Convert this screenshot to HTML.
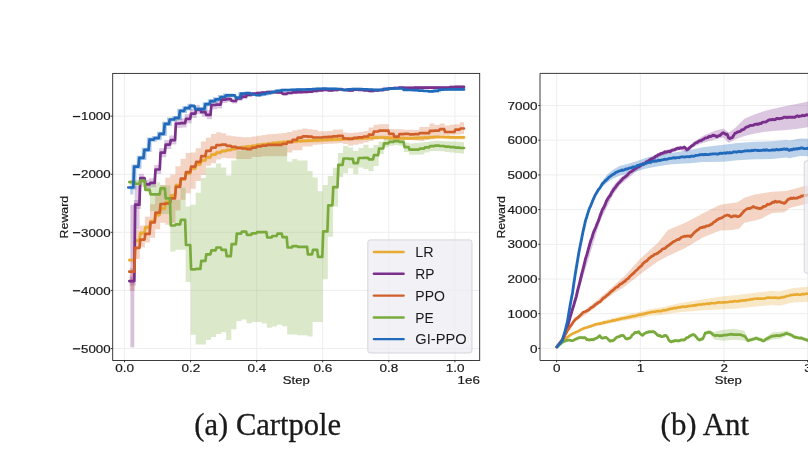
<!DOCTYPE html><html><head><meta charset="utf-8"><title>plots</title><style>html,body{margin:0;padding:0;background:#fff;overflow:hidden}svg{display:block;will-change:transform;transform:translateZ(0)}</style></head><body>
<svg width="808" height="455" viewBox="0 0 808 455">
<rect width="808" height="455" fill="#fff"/>
<defs><clipPath id="cl"><rect x="112.7" y="73.4" width="367" height="287.1"/></clipPath><clipPath id="cr"><rect x="540" y="73.4" width="268" height="287.1"/></clipPath></defs>
<g clip-path="url(#cl)">
<line x1="124.5" x2="124.5" y1="73.4" y2="360.5" stroke="#ececec" stroke-width="0.9"/>
<line x1="190.6" x2="190.6" y1="73.4" y2="360.5" stroke="#ececec" stroke-width="0.9"/>
<line x1="256.7" x2="256.7" y1="73.4" y2="360.5" stroke="#ececec" stroke-width="0.9"/>
<line x1="322.7" x2="322.7" y1="73.4" y2="360.5" stroke="#ececec" stroke-width="0.9"/>
<line x1="388.8" x2="388.8" y1="73.4" y2="360.5" stroke="#ececec" stroke-width="0.9"/>
<line x1="454.9" x2="454.9" y1="73.4" y2="360.5" stroke="#ececec" stroke-width="0.9"/>
<line x1="112.7" x2="479.7" y1="116.2" y2="116.2" stroke="#ececec" stroke-width="0.9"/>
<line x1="112.7" x2="479.7" y1="174.3" y2="174.3" stroke="#ececec" stroke-width="0.9"/>
<line x1="112.7" x2="479.7" y1="232.3" y2="232.3" stroke="#ececec" stroke-width="0.9"/>
<line x1="112.7" x2="479.7" y1="290.4" y2="290.4" stroke="#ececec" stroke-width="0.9"/>
<line x1="112.7" x2="479.7" y1="348.5" y2="348.5" stroke="#ececec" stroke-width="0.9"/>
<polygon points="129.7,258.2 134.8,258.2 134.8,238.5 139.9,238.5 139.9,231.2 144.9,231.2 144.9,225.3 150.0,225.3 150.0,219.3 155.1,219.3 155.1,212.9 160.2,212.9 160.2,206.5 165.3,206.5 165.3,200.2 170.3,200.2 170.3,193.5 175.4,193.5 175.4,183.3 180.5,183.3 180.5,177.3 185.6,177.3 185.6,171.4 190.7,171.4 190.7,166.4 195.7,166.4 195.7,162.3 200.8,162.3 200.8,158.5 205.9,158.5 205.9,155.3 211.0,155.3 211.0,152.6 216.1,152.6 216.1,150.6 221.1,150.6 221.1,149.0 226.2,149.0 226.2,148.0 231.3,148.0 231.3,147.0 236.4,147.0 236.4,145.9 241.5,145.9 241.5,145.3 246.5,145.3 246.5,144.7 251.6,144.7 251.6,143.9 256.7,143.9 256.7,143.0 261.8,143.0 261.8,142.4 266.9,142.4 266.9,141.8 271.9,141.8 271.9,141.2 277.0,141.2 277.0,140.7 282.1,140.7 282.1,140.2 287.2,140.2 287.2,139.7 292.3,139.7 292.3,139.4 297.3,139.4 297.3,139.1 302.4,139.1 302.4,138.8 307.5,138.8 307.5,138.6 312.6,138.6 312.6,138.4 317.7,138.4 317.7,138.2 322.7,138.2 322.7,138.0 327.8,138.0 327.8,137.7 332.9,137.7 332.9,137.5 338.0,137.5 338.0,137.3 343.1,137.3 343.1,137.0 348.1,137.0 348.1,136.7 353.2,136.7 353.2,136.5 358.3,136.5 358.3,136.3 363.4,136.3 363.4,136.1 368.5,136.1 368.5,135.8 373.5,135.8 373.5,135.6 378.6,135.6 378.6,135.5 383.7,135.5 383.7,135.7 388.8,135.7 388.8,135.9 393.9,135.9 393.9,136.1 398.9,136.1 398.9,136.2 404.0,136.2 404.0,136.3 409.1,136.3 409.1,136.3 414.2,136.3 414.2,136.1 419.3,136.1 419.3,135.8 424.3,135.8 424.3,135.6 429.4,135.6 429.4,135.3 434.5,135.3 434.5,135.0 439.6,135.0 439.6,135.0 444.7,135.0 444.7,135.2 449.7,135.2 449.7,135.3 454.8,135.3 454.8,135.4 459.9,135.4 459.9,135.4 464.0,135.4 464.0,139.4 459.9,139.4 459.9,139.4 454.8,139.4 454.8,139.3 449.7,139.3 449.7,139.2 444.7,139.2 444.7,139.0 439.6,139.0 439.6,139.0 434.5,139.0 434.5,139.3 429.4,139.3 429.4,139.6 424.3,139.6 424.3,139.8 419.3,139.8 419.3,140.1 414.2,140.1 414.2,140.3 409.1,140.3 409.1,140.3 404.0,140.3 404.0,140.2 398.9,140.2 398.9,140.1 393.9,140.1 393.9,139.9 388.8,139.9 388.8,139.7 383.7,139.7 383.7,139.5 378.6,139.5 378.6,139.6 373.5,139.6 373.5,139.8 368.5,139.8 368.5,140.1 363.4,140.1 363.4,140.3 358.3,140.3 358.3,140.5 353.2,140.5 353.2,140.7 348.1,140.7 348.1,141.0 343.1,141.0 343.1,141.3 338.0,141.3 338.0,141.5 332.9,141.5 332.9,141.7 327.8,141.7 327.8,142.0 322.7,142.0 322.7,142.2 317.7,142.2 317.7,142.4 312.6,142.4 312.6,142.6 307.5,142.6 307.5,142.8 302.4,142.8 302.4,143.1 297.3,143.1 297.3,143.4 292.3,143.4 292.3,143.7 287.2,143.7 287.2,144.2 282.1,144.2 282.1,144.7 277.0,144.7 277.0,145.2 271.9,145.2 271.9,145.8 266.9,145.8 266.9,146.4 261.8,146.4 261.8,147.0 256.7,147.0 256.7,147.9 251.6,147.9 251.6,148.7 246.5,148.7 246.5,149.3 241.5,149.3 241.5,149.9 236.4,149.9 236.4,151.0 231.3,151.0 231.3,152.0 226.2,152.0 226.2,153.0 221.1,153.0 221.1,154.6 216.1,154.6 216.1,156.6 211.0,156.6 211.0,159.3 205.9,159.3 205.9,162.5 200.8,162.5 200.8,166.3 195.7,166.3 195.7,170.4 190.7,170.4 190.7,175.4 185.6,175.4 185.6,181.3 180.5,181.3 180.5,187.3 175.4,187.3 175.4,197.5 170.3,197.5 170.3,204.2 165.3,204.2 165.3,210.5 160.2,210.5 160.2,216.9 155.1,216.9 155.1,223.3 150.0,223.3 150.0,229.3 144.9,229.3 144.9,235.2 139.9,235.2 139.9,242.5 134.8,242.5 134.8,262.2 129.7,262.2" fill="#E8AA30" fill-opacity="0.27" stroke="none"/>
<polygon points="129.7,276.6 133.8,276.6 133.8,200.1 138.9,200.1 138.9,173.7 143.9,173.7 143.9,179.8 149.0,179.8 149.0,178.3 154.1,178.3 154.1,165.0 159.2,165.0 159.2,148.2 164.3,148.2 164.3,140.1 169.3,140.1 169.3,135.6 174.4,135.6 174.4,119.0 179.5,119.0 179.5,118.6 184.6,118.6 184.6,114.3 189.7,114.3 189.7,109.1 194.7,109.1 194.7,105.1 199.8,105.1 199.8,107.7 204.9,107.7 204.9,110.3 210.0,110.3 210.0,100.6 215.1,100.6 215.1,100.6 220.1,100.6 220.1,96.1 225.2,96.1 225.2,96.1 230.3,96.1 230.3,98.4 235.4,98.4 235.4,96.0 240.5,96.0 240.5,94.6 245.5,94.6 245.5,92.9 250.6,92.9 250.6,92.0 255.7,92.0 255.7,91.5 260.8,91.5 260.8,91.0 265.9,91.0 265.9,90.6 270.9,90.6 270.9,90.7 276.0,90.7 276.0,90.9 281.1,90.9 281.1,92.4 286.2,92.4 286.2,91.5 291.3,91.5 291.3,90.8 296.3,90.8 296.3,90.6 301.4,90.6 301.4,90.4 306.5,90.4 306.5,90.2 311.6,90.2 311.6,89.6 316.7,89.6 316.7,88.8 321.7,88.8 321.7,88.3 326.8,88.3 326.8,88.9 331.9,88.9 331.9,88.6 337.0,88.6 337.0,87.9 342.1,87.9 342.1,88.5 347.1,88.5 347.1,88.9 352.2,88.9 352.2,88.2 357.3,88.2 357.3,88.3 362.4,88.3 362.4,88.9 367.5,88.9 367.5,89.4 372.5,89.4 372.5,89.0 377.6,89.0 377.6,88.5 382.7,88.5 382.7,87.7 387.8,87.7 387.8,87.0 392.9,87.0 392.9,86.5 397.9,86.5 397.9,86.2 403.0,86.2 403.0,86.4 408.1,86.4 408.1,86.3 413.2,86.3 413.2,86.2 418.3,86.2 418.3,86.1 423.3,86.1 423.3,86.1 428.4,86.1 428.4,86.1 433.5,86.1 433.5,86.1 438.6,86.1 438.6,86.1 443.7,86.1 443.7,86.2 448.7,86.2 448.7,85.7 453.8,85.7 453.8,85.5 458.9,85.5 458.9,85.5 464.0,85.5 464.0,88.3 460.9,88.3 460.9,88.3 455.8,88.3 455.8,88.6 450.7,88.6 450.7,89.0 445.7,89.0 445.7,89.1 440.6,89.1 440.6,89.1 435.5,89.1 435.5,89.1 430.4,89.1 430.4,89.1 425.3,89.1 425.3,89.1 420.3,89.1 420.3,89.1 415.2,89.1 415.2,89.2 410.1,89.2 410.1,89.3 405.0,89.3 405.0,89.1 399.9,89.1 399.9,89.5 394.9,89.5 394.9,89.9 389.8,89.9 389.8,90.6 384.7,90.6 384.7,91.5 379.6,91.5 379.6,92.0 374.5,92.0 374.5,92.4 369.5,92.4 369.5,91.8 364.4,91.8 364.4,91.2 359.3,91.2 359.3,91.1 354.2,91.1 354.2,91.9 349.1,91.9 349.1,91.5 344.1,91.5 344.1,90.9 339.0,90.9 339.0,91.5 333.9,91.5 333.9,91.8 328.8,91.8 328.8,91.3 323.7,91.3 323.7,91.8 318.7,91.8 318.7,92.5 313.6,92.5 313.6,93.2 308.5,93.2 308.5,93.4 303.4,93.4 303.4,93.6 298.3,93.6 298.3,93.8 293.3,93.8 293.3,94.5 288.2,94.5 288.2,95.4 283.1,95.4 283.1,93.9 278.0,93.9 278.0,93.7 272.9,93.7 272.9,93.6 267.9,93.6 267.9,94.0 262.8,94.0 262.8,94.5 257.7,94.5 257.7,95.5 252.6,95.5 252.6,96.8 247.5,96.8 247.5,98.9 242.5,98.9 242.5,100.7 237.4,100.7 237.4,103.6 232.3,103.6 232.3,102.1 227.2,102.1 227.2,103.1 222.1,103.1 222.1,108.5 217.1,108.5 217.1,109.3 212.0,109.3 212.0,119.3 206.9,119.3 206.9,116.7 201.8,116.7 201.8,114.1 196.7,114.1 196.7,118.1 191.7,118.1 191.7,123.3 186.6,123.3 186.6,127.6 181.5,127.6 181.5,128.0 176.4,128.0 176.4,144.6 171.3,144.6 171.3,149.1 166.3,149.1 166.3,157.2 161.2,157.2 161.2,174.0 156.1,174.0 156.1,187.3 151.0,187.3 151.0,188.8 145.9,188.8 145.9,182.7 140.9,182.7 140.9,209.1 135.8,209.1 135.8,285.6 129.7,285.6" fill="#7B2F8C" fill-opacity="0.27" stroke="none"/>
<polygon points="129.7,268.0 134.8,268.0 134.8,229.3 139.9,229.3 139.9,225.5 144.9,225.5 144.9,216.7 150.0,216.7 150.0,204.3 155.1,204.3 155.1,194.1 160.2,194.1 160.2,185.1 165.3,185.1 165.3,177.8 170.3,177.8 170.3,174.4 175.4,174.4 175.4,166.3 180.5,166.3 180.5,158.7 185.6,158.7 185.6,153.0 190.7,153.0 190.7,152.6 195.7,152.6 195.7,148.3 200.8,148.3 200.8,141.5 205.9,141.5 205.9,137.8 211.0,137.8 211.0,134.1 216.1,134.1 216.1,132.2 221.1,132.2 221.1,133.2 226.2,133.2 226.2,135.4 231.3,135.4 231.3,136.3 236.4,136.3 236.4,136.7 241.5,136.7 241.5,137.2 246.5,137.2 246.5,137.3 251.6,137.3 251.6,136.5 256.7,136.5 256.7,135.7 261.8,135.7 261.8,134.9 266.9,134.9 266.9,134.3 271.9,134.3 271.9,133.9 277.0,133.9 277.0,133.4 282.1,133.4 282.1,133.0 287.2,133.0 287.2,132.0 292.3,132.0 292.3,130.5 297.3,130.5 297.3,129.4 302.4,129.4 302.4,128.6 307.5,128.6 307.5,129.2 312.6,129.2 312.6,129.8 317.7,129.8 317.7,131.3 322.7,131.3 322.7,131.2 327.8,131.2 327.8,131.0 332.9,131.0 332.9,129.5 338.0,129.5 338.0,129.5 343.1,129.5 343.1,132.4 348.1,132.4 348.1,132.9 353.2,132.9 353.2,132.5 358.3,132.5 358.3,132.1 363.4,132.1 363.4,130.9 368.5,130.9 368.5,127.5 373.5,127.5 373.5,124.8 378.6,124.8 378.6,124.2 383.7,124.2 383.7,124.2 388.8,124.2 388.8,129.0 393.9,129.0 393.9,129.3 398.9,129.3 398.9,129.2 404.0,129.2 404.0,129.7 409.1,129.7 409.1,129.8 414.2,129.8 414.2,129.9 419.3,129.9 419.3,127.1 424.3,127.1 424.3,127.0 429.4,127.0 429.4,123.5 434.5,123.5 434.5,124.9 439.6,124.9 439.6,123.5 444.7,123.5 444.7,125.5 449.7,125.5 449.7,124.8 454.8,124.8 454.8,124.2 459.9,124.2 459.9,122.3 464.0,122.3 464.0,134.0 459.9,134.0 459.9,134.5 454.8,134.5 454.8,134.8 449.7,134.8 449.7,135.0 444.7,135.0 444.7,135.3 439.6,135.3 439.6,136.1 434.5,136.1 434.5,137.5 429.4,137.5 429.4,140.0 424.3,140.0 424.3,141.1 419.3,141.1 419.3,140.6 414.2,140.6 414.2,140.1 409.1,140.1 409.1,140.1 404.0,140.1 404.0,140.5 398.9,140.5 398.9,140.9 393.9,140.9 393.9,140.4 388.8,140.4 388.8,139.5 383.7,139.5 383.7,138.7 378.6,138.7 378.6,139.6 373.5,139.6 373.5,141.0 368.5,141.0 368.5,142.6 363.4,142.6 363.4,143.7 358.3,143.7 358.3,144.7 353.2,144.7 353.2,145.8 348.1,145.8 348.1,144.1 343.1,144.1 343.1,142.9 338.0,142.9 338.0,143.4 332.9,143.4 332.9,143.8 327.8,143.8 327.8,144.1 322.7,144.1 322.7,144.5 317.7,144.5 317.7,144.8 312.6,144.8 312.6,146.4 307.5,146.4 307.5,146.4 302.4,146.4 302.4,150.2 297.3,150.2 297.3,150.2 292.3,150.2 292.3,152.4 287.2,152.4 287.2,156.2 282.1,156.2 282.1,156.2 277.0,156.2 277.0,156.2 271.9,156.2 271.9,156.2 266.9,156.2 266.9,156.2 261.8,156.2 261.8,156.9 256.7,156.9 256.7,156.9 251.6,156.9 251.6,159.1 246.5,159.1 246.5,159.1 241.5,159.1 241.5,159.1 236.4,159.1 236.4,158.4 231.3,158.4 231.3,158.3 226.2,158.3 226.2,157.7 221.1,157.7 221.1,159.5 216.1,159.5 216.1,163.3 211.0,163.3 211.0,165.7 205.9,165.7 205.9,175.0 200.8,175.0 200.8,180.9 195.7,180.9 195.7,188.8 190.7,188.8 190.7,193.3 185.6,193.3 185.6,199.7 180.5,199.7 180.5,210.6 175.4,210.6 175.4,222.8 170.3,222.8 170.3,224.8 165.3,224.8 165.3,222.8 160.2,222.8 160.2,229.3 155.1,229.3 155.1,237.7 150.0,237.7 150.0,242.6 144.9,242.6 144.9,247.6 139.9,247.6 139.9,259.0 134.8,259.0 134.8,291.0 129.7,291.0" fill="#D15F2A" fill-opacity="0.27" stroke="none"/>
<polygon points="129.7,180.0 134.8,180.0 134.8,180.0 139.9,180.0 139.9,177.5 144.9,177.5 144.9,183.0 150.0,183.0 150.0,183.0 155.1,183.0 155.1,182.3 160.2,182.3 160.2,185.3 165.3,185.3 165.3,185.3 170.3,185.3 170.3,199.7 175.4,199.7 175.4,199.7 180.5,199.7 180.5,187.8 185.6,187.8 185.6,206.6 190.7,206.6 190.7,204.7 195.7,204.7 195.7,192.8 200.8,192.8 200.8,177.9 205.9,177.9 205.9,167.5 211.0,167.5 211.0,167.5 216.1,167.5 216.1,163.5 221.1,163.5 221.1,167.5 226.2,167.5 226.2,175.4 231.3,175.4 231.3,160.6 236.4,160.6 236.4,150.7 241.5,150.7 241.5,145.5 246.5,145.5 246.5,148.0 251.6,148.0 251.6,148.0 256.7,148.0 256.7,143.5 261.8,143.5 261.8,143.5 266.9,143.5 266.9,146.0 271.9,146.0 271.9,146.0 277.0,146.0 277.0,146.0 282.1,146.0 282.1,146.0 287.2,146.0 287.2,161.4 292.3,161.4 292.3,159.1 297.3,159.1 297.3,160.6 302.4,160.6 302.4,160.6 307.5,160.6 307.5,170.9 312.6,170.9 312.6,177.6 317.7,177.6 317.7,191.3 322.7,191.3 322.7,185.0 327.8,185.0 327.8,176.0 332.9,176.0 332.9,167.8 338.0,167.8 338.0,152.9 343.1,152.9 343.1,146.1 348.1,146.1 348.1,147.4 353.2,147.4 353.2,151.1 358.3,151.1 358.3,148.1 363.4,148.1 363.4,144.7 368.5,144.7 368.5,148.1 373.5,148.1 373.5,145.1 378.6,145.1 378.6,141.8 383.7,141.8 383.7,139.1 388.8,139.1 388.8,138.7 393.9,138.7 393.9,138.7 398.9,138.7 398.9,139.4 404.0,139.4 404.0,142.5 409.1,142.5 409.1,143.4 414.2,143.4 414.2,142.9 419.3,142.9 419.3,142.4 424.3,142.4 424.3,141.9 429.4,141.9 429.4,141.3 434.5,141.3 434.5,140.7 439.6,140.7 439.6,140.9 444.7,140.9 444.7,141.2 449.7,141.2 449.7,141.5 454.8,141.5 454.8,141.8 459.9,141.8 459.9,142.0 464.0,142.0 464.0,153.4 459.9,153.4 459.9,152.9 454.8,152.9 454.8,152.4 449.7,152.4 449.7,151.9 444.7,151.9 444.7,151.3 439.6,151.3 439.6,151.1 434.5,151.1 434.5,151.1 429.4,151.1 429.4,152.6 424.3,152.6 424.3,154.4 419.3,154.4 419.3,154.8 414.2,154.8 414.2,154.8 409.1,154.8 409.1,152.1 404.0,152.1 404.0,145.8 398.9,145.8 398.9,145.0 393.9,145.0 393.9,145.8 388.8,145.8 388.8,147.3 383.7,147.3 383.7,154.1 378.6,154.1 378.6,166.1 373.5,166.1 373.5,171.3 368.5,171.3 368.5,169.0 363.4,169.0 363.4,167.6 358.3,167.6 358.3,174.3 353.2,174.3 353.2,168.3 348.1,168.3 348.1,173.3 343.1,173.3 343.1,177.1 338.0,177.1 338.0,206.4 332.9,206.4 332.9,236.7 327.8,236.7 327.8,279.3 322.7,279.3 322.7,322.1 317.7,322.1 317.7,322.1 312.6,322.1 312.6,336.6 307.5,336.6 307.5,335.3 302.4,335.3 302.4,335.3 297.3,335.3 297.3,334.5 292.3,334.5 292.3,334.5 287.2,334.5 287.2,326.3 282.1,326.3 282.1,324.7 277.0,324.7 277.0,326.6 271.9,326.6 271.9,327.7 266.9,327.7 266.9,323.6 261.8,323.6 261.8,322.1 256.7,322.1 256.7,322.1 251.6,322.1 251.6,323.2 246.5,323.2 246.5,319.4 241.5,319.4 241.5,321.1 236.4,321.1 236.4,329.2 231.3,329.2 231.3,340.1 226.2,340.1 226.2,332.2 221.1,332.2 221.1,334.1 216.1,334.1 216.1,337.1 211.0,337.1 211.0,340.1 205.9,340.1 205.9,344.6 200.8,344.6 200.8,344.6 195.7,344.6 195.7,334.8 190.7,334.8 190.7,282.1 185.6,282.1 185.6,249.8 180.5,249.8 180.5,249.8 175.4,249.8 175.4,251.5 170.3,251.5 170.3,214.0 165.3,214.0 165.3,214.0 160.2,214.0 160.2,211.0 155.1,211.0 155.1,211.0 150.0,211.0 150.0,191.1 144.9,191.1 144.9,187.0 139.9,187.0 139.9,185.0 134.8,185.0 134.8,185.0 129.7,185.0" fill="#79AB3C" fill-opacity="0.27" stroke="none"/>
<polygon points="129.7,185.4 131.6,185.4 131.6,164.6 136.7,164.6 136.7,155.7 141.7,155.7 141.7,147.8 146.8,147.8 146.8,137.5 151.9,137.5 151.9,136.0 157.0,136.0 157.0,131.7 162.1,131.7 162.1,121.8 167.1,121.8 167.1,117.5 172.2,117.5 172.2,115.9 177.3,115.9 177.3,108.7 182.4,108.7 182.4,106.1 187.5,106.1 187.5,103.8 192.5,103.8 192.5,107.2 197.6,107.2 197.6,107.2 202.7,107.2 202.7,102.2 207.8,102.2 207.8,99.2 212.9,99.2 212.9,97.3 217.9,97.3 217.9,95.0 223.0,95.0 223.0,93.4 228.1,93.4 228.1,93.5 233.2,93.5 233.2,96.1 238.3,96.1 238.3,92.0 243.3,92.0 243.3,91.7 248.4,91.7 248.4,93.1 253.5,93.1 253.5,93.8 258.6,93.8 258.6,92.9 263.7,92.9 263.7,91.8 268.7,91.8 268.7,90.7 273.8,90.7 273.8,89.5 278.9,89.5 278.9,88.8 284.0,88.8 284.0,88.7 289.1,88.7 289.1,88.5 294.1,88.5 294.1,88.3 299.2,88.3 299.2,88.2 304.3,88.2 304.3,88.1 309.4,88.1 309.4,87.9 314.5,87.9 314.5,87.6 319.5,87.6 319.5,87.4 324.6,87.4 324.6,87.5 329.7,87.5 329.7,87.6 334.8,87.6 334.8,87.7 339.9,87.7 339.9,88.7 344.9,88.7 344.9,88.1 350.0,88.1 350.0,87.8 355.1,87.8 355.1,87.8 360.2,87.8 360.2,88.0 365.3,88.0 365.3,88.2 370.3,88.2 370.3,88.6 375.4,88.6 375.4,88.7 380.5,88.7 380.5,87.8 385.6,87.8 385.6,87.3 390.7,87.3 390.7,87.1 395.7,87.1 395.7,87.2 400.8,87.2 400.8,88.5 405.9,88.5 405.9,88.7 411.0,88.7 411.0,88.9 416.1,88.9 416.1,89.3 421.1,89.3 421.1,89.7 426.2,89.7 426.2,90.1 431.3,90.1 431.3,89.6 436.4,89.6 436.4,88.4 441.5,88.4 441.5,88.2 446.5,88.2 446.5,88.1 451.6,88.1 451.6,88.1 456.7,88.1 456.7,88.1 464.0,88.1 464.0,90.7 461.5,90.7 461.5,90.7 456.4,90.7 456.4,90.7 451.3,90.7 451.3,90.8 446.3,90.8 446.3,91.0 441.2,91.0 441.2,92.2 436.1,92.2 436.1,92.7 431.0,92.7 431.0,92.3 425.9,92.3 425.9,91.9 420.9,91.9 420.9,91.5 415.8,91.5 415.8,91.3 410.7,91.3 410.7,91.1 405.6,91.1 405.6,89.8 400.5,89.8 400.5,89.7 395.5,89.7 395.5,89.9 390.4,89.9 390.4,90.4 385.3,90.4 385.3,91.3 380.2,91.3 380.2,91.2 375.1,91.2 375.1,90.8 370.1,90.8 370.1,90.6 365.0,90.6 365.0,90.4 359.9,90.4 359.9,90.4 354.8,90.4 354.8,90.7 349.7,90.7 349.7,91.2 344.7,91.2 344.7,90.3 339.6,90.3 339.6,90.2 334.5,90.2 334.5,90.1 329.4,90.1 329.4,90.0 324.3,90.0 324.3,90.2 319.3,90.2 319.3,90.5 314.2,90.5 314.2,90.7 309.1,90.7 309.1,90.8 304.0,90.8 304.0,90.9 298.9,90.9 298.9,91.1 293.9,91.1 293.9,91.3 288.8,91.3 288.8,91.4 283.7,91.4 283.7,92.1 278.6,92.1 278.6,93.3 273.5,93.3 273.5,94.4 268.5,94.4 268.5,95.5 263.4,95.5 263.4,96.4 258.3,96.4 258.3,96.0 253.2,96.0 253.2,94.8 248.1,94.8 248.1,95.4 243.1,95.4 243.1,99.7 238.0,99.7 238.0,97.3 232.9,97.3 232.9,97.4 227.8,97.4 227.8,99.0 222.7,99.0 222.7,101.3 217.7,101.3 217.7,103.2 212.6,103.2 212.6,106.2 207.5,106.2 207.5,111.2 202.4,111.2 202.4,111.2 197.3,111.2 197.3,107.9 192.3,107.9 192.3,110.3 187.2,110.3 187.2,112.9 182.1,112.9 182.1,120.0 177.0,120.0 177.0,121.6 171.9,121.6 171.9,126.0 166.9,126.0 166.9,135.9 161.8,135.9 161.8,140.2 156.7,140.2 156.7,141.7 151.6,141.7 151.6,152.0 146.5,152.0 146.5,159.9 141.5,159.9 141.5,168.8 136.4,168.8 136.4,189.6 129.7,189.6" fill="#2169BA" fill-opacity="0.36" stroke="none"/>
<rect x="130.4" y="205" width="3.9" height="142.3" fill="#7B2F8C" fill-opacity="0.3"/>
<rect x="134.6" y="186" width="5.0" height="43" fill="#7B2F8C" fill-opacity="0.25"/>
<rect x="130.2" y="187" width="3.2" height="7.5" fill="#2169BA" fill-opacity="0.3"/>
<polyline points="129.3,260.2 134.3,260.2 135.2,240.5 139.4,240.5 140.3,233.2 144.5,233.2 145.4,227.3 149.6,227.3 150.5,221.3 154.7,221.3 155.5,214.9 159.7,214.9 160.6,208.5 164.8,208.5 165.7,202.2 169.9,202.2 170.8,195.5 175.0,195.5 175.9,185.3 180.1,185.3 180.9,179.3 185.1,179.3 186.0,173.4 190.2,173.4 191.1,168.4 195.3,168.4 196.2,164.3 200.4,164.3 201.3,160.5 205.4,160.5 206.3,157.3 210.5,157.3 211.4,154.6 215.6,154.6 216.5,152.6 220.7,152.6 221.6,151.0 225.8,151.0 226.7,150.0 230.8,150.0 231.7,149.0 235.9,149.0 236.8,147.9 241.0,147.9 241.9,147.3 246.1,147.3 247.0,146.7 251.2,146.7 252.1,145.9 256.2,145.9 257.1,145.0 261.3,145.0 262.2,144.4 266.4,144.4 267.3,143.8 271.5,143.8 272.4,143.2 276.6,143.2 277.5,142.7 281.7,142.7 282.6,142.2 286.7,142.2 287.6,141.7 291.8,141.7 292.7,141.4 296.9,141.4 297.8,141.1 302.0,141.1 302.9,140.8 307.1,140.8 307.9,140.6 312.1,140.6 313.0,140.4 317.2,140.4 318.1,140.2 322.3,140.2 323.2,140.0 327.4,140.0 328.3,139.7 332.4,139.7 333.3,139.5 337.5,139.5 338.4,139.3 342.6,139.3 343.5,139.0 347.7,139.0 348.6,138.7 352.8,138.7 353.7,138.5 357.8,138.5 358.7,138.3 362.9,138.3 363.8,138.1 368.0,138.1 368.9,137.8 373.1,137.8 374.0,137.6 378.2,137.6 379.1,137.5 383.2,137.5 384.1,137.7 388.3,137.7 389.2,137.9 393.4,137.9 394.3,138.1 398.5,138.1 399.4,138.2 403.6,138.2 404.5,138.3 408.6,138.3 409.5,138.3 413.7,138.3 414.6,138.1 418.8,138.1 419.7,137.8 423.9,137.8 424.8,137.6 429.0,137.6 429.9,137.3 434.1,137.3 434.9,137.0 439.1,137.0 440.0,137.0 444.2,137.0 445.1,137.2 449.3,137.2 450.2,137.3 454.4,137.3 455.3,137.4 459.4,137.4 460.3,137.4 464.0,137.4" fill="none" stroke="#E8AA30" stroke-width="2.7" stroke-linejoin="round" stroke-linecap="round"/>
<polyline points="129.3,281.1 134.3,281.1 135.2,204.6 139.4,204.6 140.3,178.2 144.5,178.2 145.4,184.3 149.6,184.3 150.5,182.8 154.7,182.8 155.5,169.5 159.7,169.5 160.6,152.7 164.8,152.7 165.7,144.6 169.9,144.6 170.8,140.1 175.0,140.1 175.9,123.5 180.1,123.5 180.9,123.1 185.1,123.1 186.0,118.8 190.2,118.8 191.1,113.6 195.3,113.6 196.2,109.6 200.4,109.6 201.3,112.2 205.4,112.2 206.3,114.8 210.5,114.8 211.4,105.0 215.6,105.0 216.5,104.6 220.7,104.6 221.6,99.6 225.8,99.6 226.7,99.1 230.8,99.1 231.7,101.0 235.9,101.0 236.8,98.4 241.0,98.4 241.9,96.7 246.1,96.7 247.0,94.8 251.2,94.8 252.1,93.7 256.2,93.7 257.1,93.0 261.3,93.0 262.2,92.5 266.4,92.5 267.3,92.1 271.5,92.1 272.4,92.2 276.6,92.2 277.5,92.4 281.7,92.4 282.6,93.9 286.7,93.9 287.6,93.0 291.8,93.0 292.7,92.3 296.9,92.3 297.8,92.1 302.0,92.1 302.9,91.9 307.1,91.9 307.9,91.7 312.1,91.7 313.0,91.0 317.2,91.0 318.1,90.3 322.3,90.3 323.2,89.8 327.4,89.8 328.3,90.4 332.4,90.4 333.3,90.0 337.5,90.0 338.4,89.4 342.6,89.4 343.5,90.0 347.7,90.0 348.6,90.4 352.8,90.4 353.7,89.7 357.8,89.7 358.7,89.8 362.9,89.8 363.8,90.3 368.0,90.3 368.9,90.9 373.1,90.9 374.0,90.5 378.2,90.5 379.1,90.0 383.2,90.0 384.1,89.1 388.3,89.1 389.2,88.5 393.4,88.5 394.3,88.0 398.5,88.0 399.4,87.6 403.6,87.6 404.5,87.9 408.6,87.9 409.5,87.8 413.7,87.8 414.6,87.6 418.8,87.6 419.7,87.6 423.9,87.6 424.8,87.6 429.0,87.6 429.9,87.6 434.1,87.6 434.9,87.6 439.1,87.6 440.0,87.6 444.2,87.6 445.1,87.6 449.3,87.6 450.2,87.1 454.4,87.1 455.3,86.9 459.4,86.9 460.3,86.9 464.0,86.9" fill="none" stroke="#7B2F8C" stroke-width="2.7" stroke-linejoin="round" stroke-linecap="round"/>
<polyline points="129.3,271.7 134.3,271.7 135.2,247.9 139.4,247.9 140.3,239.6 144.5,239.6 145.4,233.8 149.6,233.8 150.5,222.5 154.7,222.5 155.5,212.6 159.7,212.6 160.6,204.0 164.8,204.0 165.7,203.5 169.9,203.5 170.8,198.3 175.0,198.3 175.9,186.8 180.1,186.8 180.9,178.7 185.1,178.7 186.0,172.2 190.2,172.2 191.1,166.6 195.3,166.6 196.2,161.9 200.4,161.9 201.3,156.2 205.4,156.2 206.3,150.8 210.5,150.8 211.4,147.6 215.6,147.6 216.5,145.1 220.7,145.1 221.6,144.6 225.8,144.6 226.7,145.8 230.8,145.8 231.7,146.9 235.9,146.9 236.8,147.9 241.0,147.9 241.9,148.5 246.1,148.5 247.0,149.1 251.2,149.1 252.1,147.6 256.2,147.6 257.1,146.3 261.3,146.3 262.2,145.6 266.4,145.6 267.3,144.9 271.5,144.9 272.4,144.9 276.6,144.9 277.5,144.9 281.7,144.9 282.6,143.8 286.7,143.8 287.6,142.2 291.8,142.2 292.7,139.8 296.9,139.8 297.8,137.6 302.0,137.6 302.9,136.3 307.1,136.3 307.9,136.7 312.1,136.7 313.0,137.5 317.2,137.5 318.1,137.5 322.3,137.5 323.2,137.2 327.4,137.2 328.3,136.8 332.4,136.8 333.3,136.3 337.5,136.3 338.4,135.8 342.6,135.8 343.5,138.5 347.7,138.5 348.6,138.9 352.8,138.9 353.7,137.8 357.8,137.8 358.7,137.3 362.9,137.3 363.8,136.5 368.0,136.5 368.9,134.6 373.1,134.6 374.0,131.5 378.2,131.5 379.1,130.6 383.2,130.6 384.1,130.6 388.3,130.6 389.2,133.8 393.4,133.8 394.3,136.6 398.5,136.6 399.4,134.1 403.6,134.1 404.5,133.9 408.6,133.9 409.5,134.3 413.7,134.3 414.6,134.2 418.8,134.2 419.7,133.2 423.9,133.2 424.8,133.2 429.0,133.2 429.9,130.8 434.1,130.8 434.9,130.6 439.1,130.6 440.0,129.1 444.2,129.1 445.1,132.0 449.3,132.0 450.2,132.0 454.4,132.0 455.3,129.7 459.4,129.7 460.3,128.5 464.0,128.5" fill="none" stroke="#D15F2A" stroke-width="2.7" stroke-linejoin="round" stroke-linecap="round"/>
<polyline points="129.3,182.1 134.3,182.1 135.2,183.9 139.4,183.9 140.3,180.6 144.5,180.6 145.4,189.8 149.6,189.8 150.5,194.3 154.7,194.3 155.5,194.3 159.7,194.3 160.6,188.3 164.8,188.3 165.7,198.3 169.9,198.3 170.8,225.5 175.0,225.5 175.9,224.4 180.1,224.4 180.9,219.9 185.1,219.9 186.0,245.0 190.2,245.0 191.1,269.3 195.3,269.3 196.2,268.9 200.4,268.9 201.3,260.9 205.4,260.9 206.3,254.3 210.5,254.3 211.4,250.3 215.6,250.3 216.5,247.5 220.7,247.5 221.6,249.8 225.8,249.8 226.7,256.2 230.8,256.2 231.7,244.2 235.9,244.2 236.8,233.7 241.0,233.7 241.9,231.6 246.1,231.6 247.0,234.8 251.2,234.8 252.1,233.3 256.2,233.3 257.1,232.2 261.3,232.2 262.2,232.2 266.4,232.2 267.3,237.5 271.5,237.5 272.4,236.0 276.6,236.0 277.5,233.6 281.7,233.6 282.6,237.1 286.7,237.1 287.6,247.5 291.8,247.5 292.7,246.1 296.9,246.1 297.8,246.8 302.0,246.8 302.9,246.8 307.1,246.8 307.9,254.3 312.1,254.3 313.0,249.8 317.2,249.8 318.1,256.9 322.3,256.9 323.2,231.4 327.4,231.4 328.3,205.3 332.4,205.3 333.3,187.1 337.5,187.1 338.4,164.8 342.6,164.8 343.5,158.5 347.7,158.5 348.6,158.8 352.8,158.8 353.7,163.1 357.8,163.1 358.7,158.0 362.9,158.0 363.8,157.8 368.0,157.8 368.9,159.3 373.1,159.3 374.0,155.1 378.2,155.1 379.1,148.5 383.2,148.5 384.1,143.3 388.3,143.3 389.2,141.9 393.4,141.9 394.3,141.1 398.5,141.1 399.4,141.8 403.6,141.8 404.5,147.1 408.6,147.1 409.5,149.6 413.7,149.6 414.6,149.6 418.8,149.6 419.7,148.7 423.9,148.7 424.8,147.4 429.0,147.4 429.9,146.2 434.1,146.2 434.9,145.7 439.1,145.7 440.0,146.0 444.2,146.0 445.1,146.6 449.3,146.6 450.2,147.1 454.4,147.1 455.3,147.6 459.4,147.6 460.3,148.0 464.0,148.0" fill="none" stroke="#79AB3C" stroke-width="2.7" stroke-linejoin="round" stroke-linecap="round"/>
<polyline points="128.3,187.5 133.3,187.5 134.2,166.7 138.4,166.7 139.3,157.8 143.5,157.8 144.4,149.9 148.6,149.9 149.5,139.6 153.7,139.6 154.5,138.1 158.7,138.1 159.6,133.8 163.8,133.8 164.7,123.9 168.9,123.9 169.8,119.5 174.0,119.5 174.9,117.9 179.1,117.9 179.9,110.8 184.1,110.8 185.0,108.2 189.2,108.2 190.1,105.8 194.3,105.8 195.2,109.2 199.4,109.2 200.3,109.2 204.4,109.2 205.3,104.2 209.5,104.2 210.4,101.2 214.6,101.2 215.5,99.3 219.7,99.3 220.6,97.0 224.8,97.0 225.7,95.4 229.8,95.4 230.7,95.4 234.9,95.4 235.8,97.9 240.0,97.9 240.9,93.7 245.1,93.7 246.0,93.2 250.2,93.2 251.1,94.5 255.2,94.5 256.1,95.1 260.3,95.1 261.2,94.2 265.4,94.2 266.3,93.1 270.5,93.1 271.4,92.0 275.6,92.0 276.5,90.8 280.7,90.8 281.6,90.1 285.7,90.1 286.6,90.0 290.8,90.0 291.7,89.8 295.9,89.8 296.8,89.6 301.0,89.6 301.9,89.5 306.1,89.5 306.9,89.4 311.1,89.4 312.0,89.2 316.2,89.2 317.1,88.9 321.3,88.9 322.2,88.7 326.4,88.7 327.3,88.8 331.4,88.8 332.3,88.9 336.5,88.9 337.4,89.0 341.6,89.0 342.5,90.0 346.7,90.0 347.6,89.4 351.8,89.4 352.7,89.1 356.8,89.1 357.7,89.1 361.9,89.1 362.8,89.3 367.0,89.3 367.9,89.5 372.1,89.5 373.0,89.9 377.2,89.9 378.1,90.0 382.2,90.0 383.1,89.1 387.3,89.1 388.2,88.6 392.4,88.6 393.3,88.4 397.5,88.4 398.4,88.5 402.6,88.5 403.5,89.8 407.6,89.8 408.5,90.0 412.7,90.0 413.6,90.2 417.8,90.2 418.7,90.6 422.9,90.6 423.8,91.0 428.0,91.0 428.9,91.4 433.1,91.4 433.9,90.9 438.1,90.9 439.0,89.7 443.2,89.7 444.1,89.5 448.3,89.5 449.2,89.4 453.4,89.4 454.3,89.4 458.4,89.4 459.3,89.4 464.0,89.4" fill="none" stroke="#2169BA" stroke-width="2.7" stroke-linejoin="round" stroke-linecap="round"/>
</g>
<rect x="367.8" y="239.9" width="104.2" height="113.1" rx="2.6" fill="#eaeaf2" fill-opacity="0.68" stroke="#d2d2da" stroke-opacity="0.9" stroke-width="1"/>
<line x1="373.9" x2="403.6" y1="252.0" y2="252.0" stroke="#E8AA30" stroke-width="2.45" stroke-linecap="round"/>
<text x="415.3" y="257.2" font-family="Liberation Sans, sans-serif" font-size="14.7" text-anchor="start" fill="#1a1a1a" textLength="18.4" lengthAdjust="spacingAndGlyphs" stroke="none">LR</text>
<line x1="373.9" x2="403.6" y1="273.8" y2="273.8" stroke="#7B2F8C" stroke-width="2.45" stroke-linecap="round"/>
<text x="415.3" y="279.1" font-family="Liberation Sans, sans-serif" font-size="14.7" text-anchor="start" fill="#1a1a1a" textLength="19.2" lengthAdjust="spacingAndGlyphs" stroke="none">RP</text>
<line x1="373.9" x2="403.6" y1="295.6" y2="295.6" stroke="#D15F2A" stroke-width="2.45" stroke-linecap="round"/>
<text x="415.3" y="300.9" font-family="Liberation Sans, sans-serif" font-size="14.7" text-anchor="start" fill="#1a1a1a" textLength="29.7" lengthAdjust="spacingAndGlyphs" stroke="none">PPO</text>
<line x1="373.9" x2="403.6" y1="317.4" y2="317.4" stroke="#79AB3C" stroke-width="2.45" stroke-linecap="round"/>
<text x="415.3" y="322.6" font-family="Liberation Sans, sans-serif" font-size="14.7" text-anchor="start" fill="#1a1a1a" textLength="18.4" lengthAdjust="spacingAndGlyphs" stroke="none">PE</text>
<line x1="373.9" x2="403.6" y1="339.1" y2="339.1" stroke="#2169BA" stroke-width="2.45" stroke-linecap="round"/>
<text x="415.3" y="344.4" font-family="Liberation Sans, sans-serif" font-size="14.7" text-anchor="start" fill="#1a1a1a" textLength="51.3" lengthAdjust="spacingAndGlyphs" stroke="none">GI-PPO</text>
<rect x="112.7" y="73.4" width="367.0" height="287.1" fill="none" stroke="#262626" stroke-width="0.9"/>
<line x1="124.5" x2="124.5" y1="360.5" y2="362.3" stroke="#262626" stroke-width="0.9"/>
<line x1="190.6" x2="190.6" y1="360.5" y2="362.3" stroke="#262626" stroke-width="0.9"/>
<line x1="256.7" x2="256.7" y1="360.5" y2="362.3" stroke="#262626" stroke-width="0.9"/>
<line x1="322.7" x2="322.7" y1="360.5" y2="362.3" stroke="#262626" stroke-width="0.9"/>
<line x1="388.8" x2="388.8" y1="360.5" y2="362.3" stroke="#262626" stroke-width="0.9"/>
<line x1="454.9" x2="454.9" y1="360.5" y2="362.3" stroke="#262626" stroke-width="0.9"/>
<line x1="110.9" x2="112.7" y1="116.2" y2="116.2" stroke="#262626" stroke-width="0.9"/>
<line x1="110.9" x2="112.7" y1="174.3" y2="174.3" stroke="#262626" stroke-width="0.9"/>
<line x1="110.9" x2="112.7" y1="232.3" y2="232.3" stroke="#262626" stroke-width="0.9"/>
<line x1="110.9" x2="112.7" y1="290.4" y2="290.4" stroke="#262626" stroke-width="0.9"/>
<line x1="110.9" x2="112.7" y1="348.5" y2="348.5" stroke="#262626" stroke-width="0.9"/>
<text x="115.3" y="371.8" font-family="Liberation Sans, sans-serif" font-size="11.5" text-anchor="start" fill="#1a1a1a" textLength="18.8" lengthAdjust="spacingAndGlyphs" stroke="#1a1a1a" stroke-width="0.2">0.0</text>
<text x="181.4" y="371.8" font-family="Liberation Sans, sans-serif" font-size="11.5" text-anchor="start" fill="#1a1a1a" textLength="18.8" lengthAdjust="spacingAndGlyphs" stroke="#1a1a1a" stroke-width="0.2">0.2</text>
<text x="247.5" y="371.8" font-family="Liberation Sans, sans-serif" font-size="11.5" text-anchor="start" fill="#1a1a1a" textLength="18.8" lengthAdjust="spacingAndGlyphs" stroke="#1a1a1a" stroke-width="0.2">0.4</text>
<text x="313.5" y="371.8" font-family="Liberation Sans, sans-serif" font-size="11.5" text-anchor="start" fill="#1a1a1a" textLength="18.8" lengthAdjust="spacingAndGlyphs" stroke="#1a1a1a" stroke-width="0.2">0.6</text>
<text x="379.6" y="371.8" font-family="Liberation Sans, sans-serif" font-size="11.5" text-anchor="start" fill="#1a1a1a" textLength="18.8" lengthAdjust="spacingAndGlyphs" stroke="#1a1a1a" stroke-width="0.2">0.8</text>
<text x="445.7" y="371.8" font-family="Liberation Sans, sans-serif" font-size="11.5" text-anchor="start" fill="#1a1a1a" textLength="18.8" lengthAdjust="spacingAndGlyphs" stroke="#1a1a1a" stroke-width="0.2">1.0</text>
<text x="81.0" y="120.4" font-family="Liberation Sans, sans-serif" font-size="11.5" text-anchor="start" fill="#1a1a1a" textLength="29.6" lengthAdjust="spacingAndGlyphs" stroke="#1a1a1a" stroke-width="0.2">1000</text>
<rect x="72.9" y="115.90" width="7.3" height="1.3" fill="#1a1a1a"/>
<text x="81.0" y="178.4" font-family="Liberation Sans, sans-serif" font-size="11.5" text-anchor="start" fill="#1a1a1a" textLength="29.6" lengthAdjust="spacingAndGlyphs" stroke="#1a1a1a" stroke-width="0.2">2000</text>
<rect x="72.9" y="173.97" width="7.3" height="1.3" fill="#1a1a1a"/>
<text x="81.0" y="236.5" font-family="Liberation Sans, sans-serif" font-size="11.5" text-anchor="start" fill="#1a1a1a" textLength="29.6" lengthAdjust="spacingAndGlyphs" stroke="#1a1a1a" stroke-width="0.2">3000</text>
<rect x="72.9" y="232.04" width="7.3" height="1.3" fill="#1a1a1a"/>
<text x="81.0" y="294.6" font-family="Liberation Sans, sans-serif" font-size="11.5" text-anchor="start" fill="#1a1a1a" textLength="29.6" lengthAdjust="spacingAndGlyphs" stroke="#1a1a1a" stroke-width="0.2">4000</text>
<rect x="72.9" y="290.11" width="7.3" height="1.3" fill="#1a1a1a"/>
<text x="81.0" y="352.6" font-family="Liberation Sans, sans-serif" font-size="11.5" text-anchor="start" fill="#1a1a1a" textLength="29.6" lengthAdjust="spacingAndGlyphs" stroke="#1a1a1a" stroke-width="0.2">5000</text>
<rect x="72.9" y="348.18" width="7.3" height="1.3" fill="#1a1a1a"/>
<text x="282.8" y="384.3" font-family="Liberation Sans, sans-serif" font-size="11.5" text-anchor="start" fill="#1a1a1a" textLength="27.0" lengthAdjust="spacingAndGlyphs" stroke="#1a1a1a" stroke-width="0.2">Step</text>
<text x="457.6" y="384.0" font-family="Liberation Sans, sans-serif" font-size="11.5" text-anchor="start" fill="#1a1a1a" textLength="22.3" lengthAdjust="spacingAndGlyphs" stroke="#1a1a1a" stroke-width="0.2">1e6</text>
<text x="0.0" y="0.0" font-family="Liberation Sans, sans-serif" font-size="11.5" text-anchor="start" fill="#1a1a1a" textLength="42.6" lengthAdjust="spacingAndGlyphs" transform="translate(68.1,238.4) rotate(-90)" stroke="#1a1a1a" stroke-width="0.2">Reward</text>
<g clip-path="url(#cr)">
<line x1="556.6" x2="556.6" y1="73.4" y2="360.5" stroke="#ececec" stroke-width="0.9"/>
<line x1="640.3" x2="640.3" y1="73.4" y2="360.5" stroke="#ececec" stroke-width="0.9"/>
<line x1="724.0" x2="724.0" y1="73.4" y2="360.5" stroke="#ececec" stroke-width="0.9"/>
<line x1="807.7" x2="807.7" y1="73.4" y2="360.5" stroke="#ececec" stroke-width="0.9"/>
<line x1="540.0" x2="810" y1="348.4" y2="348.4" stroke="#ececec" stroke-width="0.9"/>
<line x1="540.0" x2="810" y1="313.7" y2="313.7" stroke="#ececec" stroke-width="0.9"/>
<line x1="540.0" x2="810" y1="279.0" y2="279.0" stroke="#ececec" stroke-width="0.9"/>
<line x1="540.0" x2="810" y1="244.3" y2="244.3" stroke="#ececec" stroke-width="0.9"/>
<line x1="540.0" x2="810" y1="209.6" y2="209.6" stroke="#ececec" stroke-width="0.9"/>
<line x1="540.0" x2="810" y1="174.9" y2="174.9" stroke="#ececec" stroke-width="0.9"/>
<line x1="540.0" x2="810" y1="140.2" y2="140.2" stroke="#ececec" stroke-width="0.9"/>
<line x1="540.0" x2="810" y1="105.5" y2="105.5" stroke="#ececec" stroke-width="0.9"/>
<polygon points="556.9,346.4 563.9,339.1 570.8,333.6 581.3,328.0 593.4,323.4 607.3,319.5 619.5,316.6 629.9,314.1 640.3,311.8 650.7,309.0 661.2,307.5 671.6,305.0 682.0,302.8 690.0,301.6 702.7,299.2 723.6,296.2 737.5,295.0 754.9,292.7 772.2,290.8 779.2,291.6 793.1,288.0 810.0,286.7 810.0,301.7 793.1,302.6 779.2,305.8 772.2,305.0 754.9,306.5 737.5,308.4 723.6,309.2 702.7,310.3 690.0,311.5 682.0,311.9 671.6,313.2 661.2,314.9 650.7,315.8 640.3,318.0 629.9,319.7 619.5,321.6 607.3,323.9 593.4,327.0 581.3,331.0 570.8,335.8 563.9,340.7 556.9,347.4" fill="#E8AA30" fill-opacity="0.27" stroke="none"/>
<polygon points="556.9,346.5 566.0,330.0 580.0,275.0 600.0,211.5 612.5,186.7 620.0,178.0 640.0,163.4 660.0,152.0 680.0,145.7 687.0,147.5 694.1,141.8 702.7,136.0 714.9,130.8 723.6,128.6 728.8,132.6 734.9,128.2 744.4,118.7 754.9,114.3 765.3,110.8 775.7,108.2 786.1,106.0 796.5,103.9 810.0,101.0 810.0,127.0 796.5,129.1 786.1,130.0 775.7,130.8 765.3,131.7 754.9,133.4 744.4,136.0 734.9,139.5 728.8,143.0 723.6,137.8 714.9,139.5 702.7,143.0 694.1,146.5 687.0,152.5 680.0,150.1 660.0,156.4 640.0,168.4 620.0,185.0 612.5,195.7 600.0,221.5 580.0,287.0 566.0,334.0 556.9,347.3" fill="#7B2F8C" fill-opacity="0.27" stroke="none"/>
<polygon points="556.9,346.5 574.3,319.0 590.0,306.0 607.3,291.5 616.0,283.5 624.7,276.0 640.3,258.7 657.7,243.0 668.0,230.0 685.4,222.8 702.7,213.5 720.1,204.8 737.5,202.2 744.4,197.8 754.9,194.4 772.2,191.8 786.1,190.9 796.5,188.3 803.5,186.2 810.0,185.3 810.0,203.5 803.5,204.4 789.6,207.9 784.4,212.2 772.2,213.1 760.1,219.2 744.4,222.7 739.2,228.7 732.3,230.0 720.1,230.5 702.7,237.4 685.4,248.0 668.0,256.0 657.7,261.5 640.3,274.3 624.7,286.5 616.0,292.0 607.3,298.0 590.0,311.4 574.3,322.6 556.9,347.3" fill="#D15F2A" fill-opacity="0.27" stroke="none"/>
<polygon points="556.9,346.4 563.0,340.9 569.1,338.9 572.6,339.6 577.8,336.8 584.7,335.8 587.3,338.4 591.7,338.4 595.2,337.6 599.5,334.1 602.1,336.6 606.5,335.7 609.9,339.2 613.4,339.2 616.9,335.7 623.0,333.6 626.4,337.5 629.9,336.6 634.2,331.4 638.6,330.2 642.1,333.9 647.3,330.4 653.4,329.5 657.7,333.5 662.0,334.8 666.4,333.5 669.0,339.1 671.6,340.0 675.1,338.7 678.5,339.4 685.5,337.3 688.8,334.7 694.1,332.4 698.4,338.1 702.7,337.3 705.3,331.1 709.7,329.9 714.0,331.9 723.6,329.7 734.0,328.7 744.4,330.8 747.9,338.4 756.6,336.2 763.5,338.8 772.2,332.4 780.9,331.7 787.0,330.6 794.8,335.2 801.7,336.4 810.0,339.2 810.0,342.8 801.7,340.0 794.8,338.8 787.0,335.4 780.9,338.7 772.2,339.4 763.5,342.8 756.6,340.2 747.9,342.4 744.4,340.4 734.0,339.7 723.6,340.7 714.0,339.4 709.7,333.7 705.3,334.9 702.7,340.9 698.4,341.7 694.1,336.0 688.8,338.3 685.5,340.9 678.5,342.8 675.1,342.1 671.6,343.4 669.0,342.5 666.4,336.9 662.0,338.2 657.7,336.9 653.4,332.9 647.3,333.8 642.1,337.3 638.6,333.4 634.2,334.6 629.9,339.8 626.4,340.7 623.0,336.8 616.9,338.9 613.4,342.4 609.9,342.4 606.5,338.9 602.1,339.8 599.5,337.1 595.2,340.6 591.7,341.4 587.3,341.4 584.7,338.8 577.8,339.6 572.6,342.0 569.1,340.9 563.0,342.5 556.9,347.4" fill="#79AB3C" fill-opacity="0.27" stroke="none"/>
<polygon points="556.9,346.4 562.2,340.2 564.8,331.5 567.4,321.0 570.0,305.4 572.6,291.5 574.3,279.2 576.1,268.3 578.7,252.6 582.1,235.2 585.6,219.1 589.1,208.5 592.6,199.6 596.9,190.4 602.1,181.3 607.3,174.6 612.5,169.9 619.5,166.1 628.2,163.7 636.9,160.9 645.5,158.1 654.2,155.7 662.9,154.1 671.6,152.9 680.3,151.6 690.0,150.1 702.7,147.3 723.6,144.7 737.5,143.0 754.9,141.8 772.2,141.2 786.1,139.9 789.6,140.6 800.0,138.5 810.0,138.7 810.0,156.2 800.0,156.1 789.6,158.3 786.1,157.6 772.2,159.0 754.9,159.3 737.5,160.3 723.6,161.7 702.7,162.0 690.0,163.3 680.3,163.8 671.6,164.3 662.9,165.4 654.2,166.9 645.5,168.8 636.9,171.3 628.2,173.7 619.5,175.7 612.5,178.9 607.3,182.6 602.1,187.3 596.9,193.8 592.6,202.0 589.1,210.5 585.6,220.9 582.1,237.0 578.7,254.2 576.1,269.9 574.3,280.8 572.6,292.9 570.0,306.8 567.4,322.4 564.8,332.7 562.2,341.4 556.9,347.4" fill="#2169BA" fill-opacity="0.3" stroke="none"/>
<polyline points="556.9,346.9 558.2,345.6 559.5,344.3 560.8,343.0 562.1,341.6 563.4,340.5 564.7,339.3 566.0,338.4 567.3,337.3 568.6,336.4 569.9,335.4 571.2,334.5 572.5,333.7 573.8,333.2 575.1,332.5 576.4,332.0 577.7,331.6 579.0,330.9 580.3,330.0 581.6,329.4 582.9,328.8 584.2,328.1 585.5,327.7 586.8,327.5 588.1,327.0 589.4,326.5 590.7,326.4 592.0,325.7 593.3,325.3 594.6,324.7 595.9,324.2 597.2,324.1 598.5,323.7 599.8,323.6 601.1,323.6 602.4,323.1 603.7,322.4 605.0,322.6 606.3,322.2 607.6,321.8 608.9,321.6 610.2,321.3 611.5,321.0 612.8,320.4 614.1,320.6 615.4,320.3 616.7,319.5 618.0,319.6 619.3,319.3 620.6,318.8 621.9,318.6 623.2,318.3 624.5,318.3 625.8,317.7 627.1,317.7 628.4,317.0 629.7,317.1 631.0,316.9 632.3,316.3 633.6,316.1 634.9,316.1 636.2,315.7 637.5,315.3 638.8,314.8 640.1,314.6 641.4,314.6 642.7,313.9 644.0,314.1 645.3,313.3 646.6,313.4 647.9,312.7 649.2,312.8 650.5,312.3 651.8,312.0 653.1,311.8 654.4,311.8 655.7,311.6 657.0,311.2 658.3,311.0 659.6,311.1 660.9,311.2 662.2,310.8 663.5,310.1 664.8,310.4 666.1,310.0 667.4,309.9 668.7,309.1 670.0,309.2 671.3,308.5 672.6,308.6 673.9,308.1 675.2,307.9 676.5,308.1 677.8,307.4 679.1,307.4 680.4,307.4 681.7,306.8 683.0,306.6 684.3,306.9 685.6,306.5 686.9,306.6 688.2,306.0 689.5,306.1 690.8,305.8 692.1,305.9 693.4,305.3 694.7,305.8 696.0,304.9 697.3,305.2 698.6,304.5 699.9,304.5 701.2,304.7 702.5,304.1 703.8,304.0 705.1,304.2 706.4,303.8 707.7,303.5 709.0,304.0 710.3,303.3 711.6,303.1 712.9,303.2 714.2,303.2 715.5,303.2 716.8,302.6 718.1,302.6 719.4,302.3 720.7,302.5 722.0,302.5 723.3,302.4 724.6,302.4 725.9,302.2 727.2,302.2 728.5,302.0 729.8,301.7 731.1,301.5 732.4,301.7 733.7,301.3 735.0,301.1 736.3,301.2 737.6,301.5 738.9,300.8 740.2,300.9 741.5,300.6 742.8,300.6 744.1,300.2 745.4,300.6 746.7,299.9 748.0,300.0 749.3,299.7 750.6,299.3 751.9,299.5 753.2,299.1 754.5,298.8 755.8,298.7 757.1,298.6 758.4,298.5 759.7,298.7 761.0,298.5 762.3,298.7 763.6,298.5 764.9,298.5 766.2,297.8 767.5,297.8 768.8,297.6 770.1,297.7 771.4,297.6 772.7,297.7 774.0,297.8 775.3,297.6 776.6,297.8 777.9,298.1 779.2,297.9 780.5,297.6 781.8,297.5 783.1,297.0 784.4,297.1 785.7,296.4 787.0,296.0 788.3,295.8 789.6,295.5 790.9,295.1 792.2,295.0 793.5,294.7 794.8,294.6 796.1,294.7 797.4,294.3 798.7,294.7 800.0,294.7 801.3,294.4 802.6,294.1 803.9,294.1 805.2,294.1 806.5,293.6 807.8,293.8 809.1,293.8 810.0,293.7" fill="none" stroke="#E8AA30" stroke-width="2.6" stroke-linejoin="round" stroke-linecap="round"/>
<polyline points="556.9,346.9 558.2,345.2 559.5,343.6 560.8,341.9 562.1,340.3 563.4,338.1 564.7,334.7 566.0,331.4 567.3,327.6 568.6,322.6 569.9,317.8 571.2,313.7 572.5,309.1 573.8,305.2 575.1,300.6 576.4,296.3 577.7,290.4 579.0,285.5 580.3,280.3 581.6,274.7 582.9,269.6 584.2,264.3 585.5,258.8 586.8,254.9 588.1,250.1 589.4,245.3 590.7,240.8 592.0,237.5 593.3,232.9 594.6,229.9 595.9,227.0 597.2,223.6 598.5,220.7 599.8,216.6 601.1,213.4 602.4,209.6 603.7,207.6 605.0,204.9 606.3,201.5 607.6,199.0 608.9,196.9 610.2,195.6 611.5,192.8 612.8,190.9 614.1,188.9 615.4,187.4 616.7,185.5 618.0,183.8 619.3,182.6 620.6,181.1 621.9,179.9 623.2,178.2 624.5,177.4 625.8,176.3 627.1,175.3 628.4,173.9 629.7,172.3 631.0,171.9 632.3,170.9 633.6,169.8 634.9,168.7 636.2,168.2 637.5,166.9 638.8,166.9 640.1,165.9 641.4,164.8 642.7,163.8 644.0,164.0 645.3,163.4 646.6,161.6 647.9,161.7 649.2,160.4 650.5,159.3 651.8,158.7 653.1,158.4 654.4,157.7 655.7,156.1 657.0,156.0 658.3,154.6 659.6,154.6 660.9,153.5 662.2,153.4 663.5,152.9 664.8,151.8 666.1,152.3 667.4,151.6 668.7,151.3 670.0,151.9 671.3,150.6 672.6,150.2 673.9,149.9 675.2,149.5 676.5,148.6 677.8,148.1 679.1,148.6 680.4,147.6 681.7,148.1 683.0,147.8 684.3,147.0 685.6,148.2 686.9,149.7 688.2,149.1 689.5,147.9 690.8,146.7 692.1,145.7 693.4,144.9 694.7,143.5 696.0,142.8 697.3,142.4 698.6,141.3 699.9,140.7 701.2,140.8 702.5,139.6 703.8,139.1 705.1,138.0 706.4,137.9 707.7,137.6 709.0,136.4 710.3,136.6 711.6,136.1 712.9,135.2 714.2,135.5 715.5,135.8 716.8,137.0 718.1,135.9 719.4,135.6 720.7,134.9 722.0,133.4 723.3,132.8 724.6,133.6 725.9,134.4 727.2,134.3 728.5,137.8 729.8,138.5 731.1,137.9 732.4,137.5 733.7,135.2 735.0,133.2 736.3,132.9 737.6,132.0 738.9,131.6 740.2,131.4 741.5,130.0 742.8,129.8 744.1,129.1 745.4,127.8 746.7,126.9 748.0,126.8 749.3,125.9 750.6,125.5 751.9,125.4 753.2,125.4 754.5,124.4 755.8,124.3 757.1,124.0 758.4,124.2 759.7,123.4 761.0,123.6 762.3,122.4 763.6,122.1 764.9,122.0 766.2,121.8 767.5,120.8 768.8,120.1 770.1,119.7 771.4,119.9 772.7,119.3 774.0,119.7 775.3,119.5 776.6,118.5 777.9,118.4 779.2,118.8 780.5,118.4 781.8,118.4 783.1,117.7 784.4,117.2 785.7,117.2 787.0,117.7 788.3,117.1 789.6,117.2 790.9,117.3 792.2,117.3 793.5,117.2 794.8,117.4 796.1,116.3 797.4,115.8 798.7,116.5 800.0,116.1 801.3,116.1 802.6,115.3 803.9,115.7 805.2,115.5 806.5,114.6 807.8,115.0 809.1,115.0 810.0,114.5" fill="none" stroke="#7B2F8C" stroke-width="2.9" stroke-linejoin="round" stroke-linecap="round"/>
<polyline points="556.9,346.9 558.2,345.1 559.5,343.3 560.8,341.5 562.1,339.7 563.4,337.9 564.7,335.7 566.0,333.3 567.3,330.7 568.6,328.9 569.9,326.8 571.2,325.1 572.5,323.2 573.8,321.3 575.1,319.7 576.4,318.5 577.7,317.8 579.0,316.5 580.3,315.2 581.6,314.0 582.9,312.6 584.2,312.0 585.5,311.5 586.8,310.8 588.1,310.2 589.4,309.4 590.7,307.8 592.0,307.4 593.3,306.5 594.6,305.4 595.9,304.2 597.2,303.6 598.5,302.3 599.8,302.0 601.1,300.7 602.4,299.2 603.7,297.8 605.0,297.3 606.3,295.8 607.6,294.9 608.9,293.9 610.2,292.5 611.5,291.3 612.8,290.5 614.1,289.3 615.4,287.9 616.7,287.1 618.0,286.6 619.3,284.9 620.6,284.0 621.9,283.6 623.2,282.3 624.5,281.6 625.8,280.4 627.1,279.0 628.4,278.5 629.7,276.5 631.0,275.5 632.3,274.1 633.6,273.3 634.9,271.7 636.2,270.5 637.5,269.5 638.8,267.8 640.1,266.8 641.4,265.9 642.7,263.9 644.0,262.7 645.3,261.7 646.6,261.0 647.9,259.7 649.2,258.2 650.5,257.4 651.8,256.3 653.1,255.7 654.4,254.4 655.7,254.2 657.0,253.5 658.3,252.7 659.6,251.6 660.9,251.0 662.2,249.2 663.5,248.7 664.8,248.5 666.1,247.4 667.4,246.0 668.7,245.6 670.0,244.3 671.3,243.5 672.6,242.3 673.9,241.4 675.2,241.0 676.5,240.0 677.8,239.5 679.1,239.4 680.4,238.1 681.7,237.2 683.0,236.7 684.3,236.2 685.6,236.4 686.9,236.0 688.2,236.1 689.5,235.9 690.8,236.7 692.1,235.0 693.4,233.6 694.7,232.3 696.0,231.1 697.3,230.1 698.6,229.4 699.9,228.0 701.2,227.5 702.5,227.5 703.8,226.8 705.1,227.1 706.4,225.8 707.7,225.8 709.0,225.6 710.3,224.6 711.6,224.3 712.9,223.0 714.2,221.9 715.5,221.2 716.8,219.9 718.1,219.4 719.4,218.4 720.7,218.3 722.0,217.7 723.3,216.8 724.6,215.8 725.9,215.5 727.2,215.0 728.5,215.4 729.8,215.9 731.1,217.0 732.4,216.6 733.7,215.8 735.0,216.0 736.3,216.0 737.6,216.7 738.9,216.3 740.2,215.7 741.5,214.0 742.8,212.6 744.1,211.0 745.4,210.0 746.7,209.0 748.0,208.5 749.3,208.6 750.6,208.1 751.9,207.5 753.2,206.5 754.5,207.2 755.8,207.7 757.1,207.9 758.4,208.4 759.7,208.5 761.0,208.3 762.3,207.6 763.6,206.4 764.9,206.4 766.2,205.7 767.5,204.2 768.8,204.5 770.1,204.0 771.4,203.2 772.7,202.1 774.0,202.4 775.3,201.1 776.6,202.0 777.9,201.9 779.2,201.6 780.5,202.0 781.8,202.7 783.1,202.9 784.4,203.3 785.7,202.4 787.0,200.6 788.3,199.2 789.6,199.0 790.9,198.0 792.2,198.7 793.5,197.8 794.8,198.4 796.1,198.2 797.4,198.0 798.7,197.2 800.0,197.1 801.3,196.0 802.6,196.1 803.9,195.4 805.2,195.7 806.5,195.4 807.8,194.8 809.1,194.7 810.0,194.5" fill="none" stroke="#D15F2A" stroke-width="2.8" stroke-linejoin="round" stroke-linecap="round"/>
<polyline points="556.9,346.9 558.2,345.8 559.5,344.7 560.8,343.6 562.1,342.5 563.4,341.6 564.7,341.3 566.0,340.7 567.3,340.4 568.6,340.2 569.9,340.2 571.2,340.6 572.5,340.6 573.8,340.2 575.1,339.4 576.4,338.9 577.7,338.3 579.0,337.7 580.3,337.7 581.6,337.5 582.9,337.9 584.2,337.6 585.5,337.8 586.8,339.6 588.1,339.6 589.4,340.0 590.7,339.6 592.0,339.4 593.3,339.8 594.6,339.0 595.9,338.3 597.2,337.9 598.5,336.7 599.8,335.7 601.1,337.6 602.4,338.2 603.7,338.0 605.0,337.4 606.3,337.7 607.6,338.6 608.9,340.1 610.2,341.1 611.5,340.6 612.8,340.7 614.1,339.8 615.4,338.5 616.7,337.2 618.0,336.8 619.3,336.6 620.6,335.6 621.9,335.7 623.2,335.3 624.5,336.8 625.8,338.7 627.1,338.9 628.4,338.4 629.7,338.2 631.0,337.0 632.3,334.9 633.6,334.1 634.9,332.4 636.2,332.7 637.5,332.4 638.8,331.6 640.1,333.7 641.4,334.7 642.7,335.3 644.0,333.9 645.3,333.1 646.6,332.3 647.9,332.4 649.2,331.6 650.5,331.8 651.8,331.8 653.1,331.6 654.4,332.0 655.7,333.2 657.0,334.6 658.3,335.6 659.6,335.5 660.9,336.4 662.2,336.7 663.5,336.3 664.8,335.3 666.1,335.6 667.4,337.0 668.7,340.0 670.0,341.2 671.3,341.9 672.6,341.2 673.9,341.2 675.2,340.5 676.5,340.5 677.8,340.8 679.1,340.7 680.4,340.2 681.7,339.9 683.0,340.0 684.3,339.8 685.6,338.8 686.9,337.6 688.2,337.4 689.5,336.2 690.8,335.6 692.1,334.9 693.4,334.6 694.7,335.3 696.0,336.7 697.3,338.4 698.6,339.5 699.9,340.0 701.2,339.0 702.5,339.1 703.8,336.8 705.1,333.2 706.4,332.9 707.7,332.7 709.0,332.1 710.3,332.6 711.6,333.2 712.9,334.6 714.2,335.3 715.5,335.8 716.8,335.3 718.1,335.4 719.4,335.8 720.7,335.6 722.0,335.6 723.3,335.2 724.6,335.1 725.9,335.2 727.2,334.8 728.5,334.6 729.8,334.5 731.1,334.2 732.4,334.3 733.7,334.6 735.0,334.7 736.3,334.6 737.6,334.7 738.9,334.7 740.2,334.7 741.5,335.0 742.8,335.6 744.1,335.9 745.4,336.9 746.7,339.0 748.0,340.6 749.3,340.2 750.6,339.8 751.9,339.6 753.2,339.0 754.5,338.9 755.8,338.2 757.1,338.4 758.4,339.1 759.7,339.5 761.0,339.7 762.3,340.7 763.6,340.9 764.9,340.1 766.2,338.9 767.5,338.6 768.8,337.6 770.1,337.2 771.4,336.3 772.7,336.1 774.0,335.9 775.3,335.9 776.6,335.4 777.9,335.6 779.2,335.5 780.5,335.5 781.8,334.8 783.1,334.7 784.4,334.2 785.7,333.6 787.0,333.4 788.3,334.0 789.6,334.3 790.9,335.0 792.2,335.4 793.5,336.6 794.8,337.3 796.1,337.2 797.4,337.6 798.7,337.9 800.0,338.1 801.3,337.9 802.6,338.7 803.9,339.0 805.2,339.5 806.5,339.8 807.8,340.4 809.1,340.9 810.0,341.0" fill="none" stroke="#79AB3C" stroke-width="2.75" stroke-linejoin="round" stroke-linecap="round"/>
<polyline points="556.9,346.9 558.2,345.4 559.5,343.9 560.8,342.4 562.1,340.9 563.4,336.7 564.7,332.5 566.0,327.3 567.3,322.2 568.6,314.5 569.9,306.8 571.2,299.6 572.5,292.9 573.8,283.7 575.1,275.1 576.4,267.3 577.7,259.6 579.0,251.7 580.3,245.3 581.6,238.9 582.9,232.2 584.2,226.7 585.5,220.6 586.8,216.7 588.1,212.4 589.4,208.4 590.7,205.8 592.0,202.5 593.3,199.3 594.6,196.4 595.9,193.9 597.2,191.8 598.5,189.5 599.8,188.1 601.1,185.9 602.4,183.7 603.7,182.7 605.0,181.0 606.3,180.0 607.6,178.7 608.9,177.3 610.2,176.4 611.5,175.4 612.8,174.5 614.1,174.0 615.4,172.6 616.7,172.2 618.0,171.7 619.3,170.8 620.6,170.7 621.9,170.0 623.2,170.3 624.5,169.7 625.8,169.0 627.1,169.1 628.4,168.5 629.7,168.0 631.0,167.9 632.3,167.2 633.6,166.9 634.9,167.0 636.2,166.5 637.5,165.5 638.8,165.7 640.1,164.7 641.4,164.6 642.7,164.6 644.0,164.0 645.3,163.3 646.6,163.0 647.9,162.7 649.2,162.2 650.5,162.5 651.8,161.4 653.1,161.4 654.4,161.4 655.7,160.8 657.0,161.0 658.3,160.2 659.6,160.5 660.9,160.2 662.2,159.8 663.5,159.7 664.8,159.2 666.1,159.3 667.4,159.1 668.7,158.6 670.0,158.4 671.3,158.4 672.6,158.0 673.9,157.7 675.2,158.1 676.5,157.6 677.8,157.6 679.1,157.7 680.4,157.1 681.7,156.9 683.0,156.8 684.3,157.1 685.6,156.8 686.9,156.6 688.2,156.6 689.5,156.9 690.8,156.2 692.1,156.1 693.4,156.3 694.7,155.9 696.0,155.4 697.3,155.4 698.6,155.2 699.9,154.7 701.2,154.7 702.5,154.5 703.8,154.8 705.1,154.3 706.4,154.5 707.7,154.7 709.0,154.6 710.3,154.1 711.6,154.2 712.9,153.9 714.2,153.9 715.5,153.9 716.8,154.0 718.1,154.1 719.4,153.5 720.7,153.2 722.0,153.5 723.3,153.1 724.6,152.9 725.9,153.3 727.2,152.6 728.5,153.0 729.8,152.5 731.1,152.8 732.4,152.6 733.7,151.8 735.0,151.8 736.3,152.2 737.6,151.8 738.9,151.5 740.2,151.7 741.5,151.7 742.8,151.3 744.1,151.2 745.4,150.8 746.7,150.9 748.0,150.6 749.3,150.9 750.6,150.8 751.9,150.3 753.2,150.6 754.5,150.1 755.8,150.1 757.1,150.5 758.4,150.3 759.7,150.6 761.0,150.3 762.3,150.3 763.6,149.9 764.9,150.4 766.2,149.7 767.5,150.1 768.8,150.3 770.1,150.3 771.4,150.2 772.7,149.8 774.0,150.0 775.3,150.0 776.6,149.4 777.9,149.9 779.2,149.8 780.5,149.4 781.8,149.6 783.1,149.2 784.4,149.0 785.7,149.3 787.0,149.0 788.3,149.8 789.6,150.3 790.9,149.5 792.2,149.8 793.5,148.9 794.8,149.3 796.1,148.7 797.4,149.0 798.7,148.4 800.0,148.5 801.3,147.9 802.6,148.0 803.9,148.6 805.2,148.6 806.5,148.6 807.8,148.2 809.1,148.4 810.0,148.7" fill="none" stroke="#2169BA" stroke-width="2.85" stroke-linejoin="round" stroke-linecap="round"/>
</g>
<rect x="804.2" y="160.8" width="30" height="112.4" rx="2.6" fill="#eaeaf2" fill-opacity="0.68" stroke="#d2d2da" stroke-opacity="0.9" stroke-width="1"/>
<path d="M 810 73.4 H 540.0 V 360.5 H 810" fill="none" stroke="#262626" stroke-width="0.9"/>
<line x1="556.6" x2="556.6" y1="360.5" y2="362.3" stroke="#262626" stroke-width="0.9"/>
<line x1="640.3" x2="640.3" y1="360.5" y2="362.3" stroke="#262626" stroke-width="0.9"/>
<line x1="724.0" x2="724.0" y1="360.5" y2="362.3" stroke="#262626" stroke-width="0.9"/>
<line x1="807.7" x2="807.7" y1="360.5" y2="362.3" stroke="#262626" stroke-width="0.9"/>
<line x1="538.2" x2="540.0" y1="348.4" y2="348.4" stroke="#262626" stroke-width="0.9"/>
<line x1="538.2" x2="540.0" y1="313.7" y2="313.7" stroke="#262626" stroke-width="0.9"/>
<line x1="538.2" x2="540.0" y1="279.0" y2="279.0" stroke="#262626" stroke-width="0.9"/>
<line x1="538.2" x2="540.0" y1="244.3" y2="244.3" stroke="#262626" stroke-width="0.9"/>
<line x1="538.2" x2="540.0" y1="209.6" y2="209.6" stroke="#262626" stroke-width="0.9"/>
<line x1="538.2" x2="540.0" y1="174.9" y2="174.9" stroke="#262626" stroke-width="0.9"/>
<line x1="538.2" x2="540.0" y1="140.2" y2="140.2" stroke="#262626" stroke-width="0.9"/>
<line x1="538.2" x2="540.0" y1="105.5" y2="105.5" stroke="#262626" stroke-width="0.9"/>
<text x="553.1" y="371.8" font-family="Liberation Sans, sans-serif" font-size="11.5" text-anchor="start" fill="#1a1a1a" textLength="7.5" lengthAdjust="spacingAndGlyphs" stroke="#1a1a1a" stroke-width="0.2">0</text>
<text x="636.8" y="371.8" font-family="Liberation Sans, sans-serif" font-size="11.5" text-anchor="start" fill="#1a1a1a" textLength="7.5" lengthAdjust="spacingAndGlyphs" stroke="#1a1a1a" stroke-width="0.2">1</text>
<text x="720.5" y="371.8" font-family="Liberation Sans, sans-serif" font-size="11.5" text-anchor="start" fill="#1a1a1a" textLength="7.5" lengthAdjust="spacingAndGlyphs" stroke="#1a1a1a" stroke-width="0.2">2</text>
<text x="804.2" y="371.8" font-family="Liberation Sans, sans-serif" font-size="11.5" text-anchor="start" fill="#1a1a1a" textLength="7.5" lengthAdjust="spacingAndGlyphs" stroke="#1a1a1a" stroke-width="0.2">3</text>
<text x="530.0" y="352.5" font-family="Liberation Sans, sans-serif" font-size="11.5" text-anchor="start" fill="#1a1a1a" textLength="7.5" lengthAdjust="spacingAndGlyphs" stroke="#1a1a1a" stroke-width="0.2">0</text>
<text x="507.5" y="317.8" font-family="Liberation Sans, sans-serif" font-size="11.5" text-anchor="start" fill="#1a1a1a" textLength="30.0" lengthAdjust="spacingAndGlyphs" stroke="#1a1a1a" stroke-width="0.2">1000</text>
<text x="507.5" y="283.1" font-family="Liberation Sans, sans-serif" font-size="11.5" text-anchor="start" fill="#1a1a1a" textLength="30.0" lengthAdjust="spacingAndGlyphs" stroke="#1a1a1a" stroke-width="0.2">2000</text>
<text x="507.5" y="248.4" font-family="Liberation Sans, sans-serif" font-size="11.5" text-anchor="start" fill="#1a1a1a" textLength="30.0" lengthAdjust="spacingAndGlyphs" stroke="#1a1a1a" stroke-width="0.2">3000</text>
<text x="507.5" y="213.7" font-family="Liberation Sans, sans-serif" font-size="11.5" text-anchor="start" fill="#1a1a1a" textLength="30.0" lengthAdjust="spacingAndGlyphs" stroke="#1a1a1a" stroke-width="0.2">4000</text>
<text x="507.5" y="179.0" font-family="Liberation Sans, sans-serif" font-size="11.5" text-anchor="start" fill="#1a1a1a" textLength="30.0" lengthAdjust="spacingAndGlyphs" stroke="#1a1a1a" stroke-width="0.2">5000</text>
<text x="507.5" y="144.3" font-family="Liberation Sans, sans-serif" font-size="11.5" text-anchor="start" fill="#1a1a1a" textLength="30.0" lengthAdjust="spacingAndGlyphs" stroke="#1a1a1a" stroke-width="0.2">6000</text>
<text x="507.5" y="109.6" font-family="Liberation Sans, sans-serif" font-size="11.5" text-anchor="start" fill="#1a1a1a" textLength="30.0" lengthAdjust="spacingAndGlyphs" stroke="#1a1a1a" stroke-width="0.2">7000</text>
<text x="714.8" y="384.3" font-family="Liberation Sans, sans-serif" font-size="11.5" text-anchor="start" fill="#1a1a1a" textLength="27.0" lengthAdjust="spacingAndGlyphs" stroke="#1a1a1a" stroke-width="0.2">Step</text>
<text x="0.0" y="0.0" font-family="Liberation Sans, sans-serif" font-size="11.5" text-anchor="start" fill="#1a1a1a" textLength="42.6" lengthAdjust="spacingAndGlyphs" transform="translate(505.2,238.6) rotate(-90)" stroke="#1a1a1a" stroke-width="0.2">Reward</text>
<text x="194.3" y="435.4" font-family="Liberation Serif, sans-serif" font-size="31.3" text-anchor="start" fill="#1a1a1a" textLength="146.9" lengthAdjust="spacingAndGlyphs" stroke="#1a1a1a" stroke-width="0.3">(a) Cartpole</text>
<text x="660.6" y="435.4" font-family="Liberation Serif, sans-serif" font-size="31.3" text-anchor="start" fill="#1a1a1a" textLength="88.4" lengthAdjust="spacingAndGlyphs" stroke="#1a1a1a" stroke-width="0.3">(b) Ant</text>
</svg></body></html>
